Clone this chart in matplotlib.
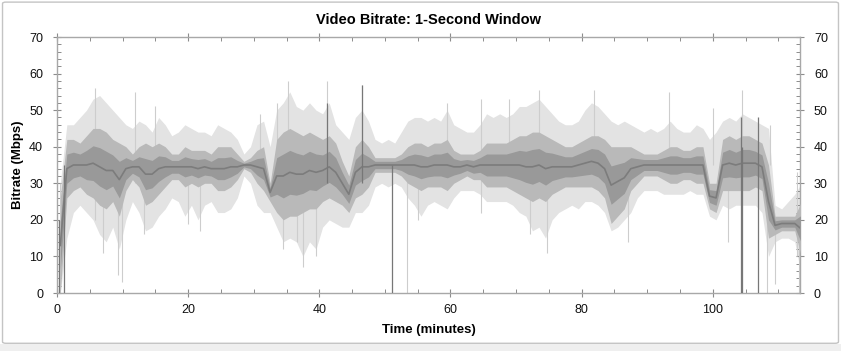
import matplotlib
matplotlib.use("Agg")
import matplotlib.pyplot as plt
from matplotlib.patches import FancyBboxPatch, Rectangle
from matplotlib.ticker import MultipleLocator
import numpy as np

plt.rcParams['font.family'] = ['Liberation Sans', 'DejaVu Sans']

# ---- data (per-minute envelopes, Mbps) ----
minutes = list(range(0, 114))
light_lo = [0, 15, 22, 24, 22, 20, 16, 14, 18, 12, 20, 25, 22, 17, 18, 21, 23, 26, 25, 21,
            24, 20, 24, 25, 22, 22, 23, 26, 32, 30, 24, 22, 22, 18, 14, 15, 14, 10, 14, 12,
            18, 20, 19, 18, 18, 22, 22, 24, 29, 30, 29, 30, 29, 26, 24, 21, 24, 25, 24, 23,
            26, 28, 28, 28, 27, 25, 25, 25, 25, 24, 22, 21, 17, 18, 15, 20, 22, 23, 24, 23,
            25, 25, 24, 22, 17, 18, 20, 22, 26, 28, 28, 28, 27, 27, 27, 27, 28, 27, 27, 21,
            20, 24, 23, 24, 24, 24, 24, 22, 10, 14, 15, 15, 14, 5]
light_hi = [30, 46, 46, 48, 50, 53, 54, 52, 50, 48, 46, 45, 47, 46, 44, 48, 46, 43, 44, 46,
            45, 44, 44, 43, 46, 45, 44, 42, 38, 40, 46, 47, 40, 50, 52, 55, 51, 50, 52, 50,
            49, 52, 46, 44, 42, 48, 50, 47, 42, 41, 42, 41, 44, 47, 48, 48, 47, 48, 47, 50,
            46, 45, 44, 44, 46, 49, 48, 49, 48, 49, 51, 51, 52, 53, 51, 49, 47, 46, 46, 47,
            50, 52, 51, 49, 47, 46, 47, 46, 45, 44, 45, 44, 45, 47, 45, 44, 44, 46, 45, 42,
            44, 47, 48, 47, 49, 48, 47, 46, 45, 24, 23, 25, 27, 30]
dark_lo = [0, 26, 28, 29, 27, 26, 24, 23, 25, 21, 28, 31, 29, 24, 25, 27, 29, 31, 31, 29,
           30, 29, 30, 30, 28, 28, 29, 31, 34, 33, 30, 28, 25, 22, 20, 21, 21, 22, 23, 23,
           25, 26, 25, 24, 22, 26, 27, 29, 33, 33, 33, 33, 32, 30, 29, 28, 29, 29, 29, 28,
           30, 31, 32, 31, 31, 29, 29, 29, 29, 28, 27, 26, 25, 26, 25, 27, 28, 29, 29, 29,
           29, 29, 28, 26, 19, 21, 23, 28, 30, 32, 32, 32, 31, 30, 30, 31, 31, 30, 30, 23,
           22, 28, 28, 28, 28, 28, 29, 28, 15, 16, 17, 17, 17, 10]
dark_hi = [26, 42, 42, 41, 43, 45, 45, 44, 42, 41, 40, 38, 40, 41, 40, 41, 40, 38, 38, 40,
           39, 39, 39, 38, 40, 40, 40, 38, 36, 37, 39, 40, 30, 42, 44, 45, 44, 43, 44, 43,
           42, 43, 41, 36, 32, 40, 42, 40, 37, 37, 37, 37, 38, 40, 41, 41, 40, 41, 41, 42,
           39, 38, 38, 38, 39, 41, 41, 41, 41, 42, 43, 43, 44, 44, 43, 42, 41, 40, 40, 41,
           42, 43, 43, 42, 40, 40, 40, 40, 39, 38, 38, 38, 39, 40, 40, 39, 39, 40, 40, 30,
           30, 42, 43, 42, 43, 43, 42, 41, 35, 21, 21, 21, 21, 25]

# isolated spikes: time (min), bottom, top (Mbps)
light_spike_t = [0.5, 5.8, 7.0, 9.3, 9.9, 11.9, 13.2, 15.0, 19.9, 21.8, 31.0, 33.6, 34.5,
                 35.3, 36.6, 37.5, 39.5, 41.1, 46.5, 53.4, 55.0, 59.5, 64.6, 69.0, 72.2,
                 73.5, 74.7, 81.9, 87.1, 93.4, 100.0, 102.3, 104.4, 108.2, 108.7, 109.5,
                 112.9, 113.2]
light_spike_lo = [0, 20, 11, 5, 3, 30, 16, 30, 19, 17, 35, 30, 12, 35, 14, 7, 10, 35, 35,
                  0, 20, 35, 22, 34, 16, 35, 11, 35, 14, 35, 35, 14, 35, 0, 35, 2.5, 10, 0]
light_spike_hi = [30, 56, 35, 36, 33, 55, 35, 51, 35, 35, 49, 52, 30, 58, 30, 30, 30, 58,
                  57, 35, 35, 52, 53, 53, 35, 55.5, 30, 55.5, 30, 55, 50.6, 30, 55.5, 35,
                  46, 18, 33, 15]
dark_spike_t = [0.3, 1.0, 41.1, 46.5, 51.1, 104.3, 104.5, 106.9]
dark_spike_lo = [0, 0, 30, 30, 0, 0, 0, 0]
dark_spike_hi = [20, 35, 52, 57, 35, 48, 40, 48]

# ---- figure ----
fig = plt.figure(figsize=(8.41, 3.51), dpi=100)
fig.patch.set_facecolor('#efefef')

bg = fig.add_axes([0, 0, 1, 1], zorder=-10)
bg.set_xlim(0, 1)
bg.set_ylim(0, 1)
bg.axis('off')
bg.add_patch(Rectangle((0, 0.02), 1, 0.98, facecolor='white', edgecolor='none'))
bg.add_patch(FancyBboxPatch((0.003, 0.022), 0.994, 0.972,
                            boxstyle='round,pad=0,rounding_size=0.004',
                            facecolor='white', edgecolor='#c4c4c4', linewidth=1.0))

ax = fig.add_axes([57 / 841, (351 - 293) / 351, (800 - 57) / 841, (293 - 37) / 351], zorder=1)
ax.set_facecolor('white')

m = np.array(minutes, dtype=float) + 0.5
llo, lhi = np.array(light_lo, float), np.array(light_hi, float)
dlo, dhi = np.array(dark_lo, float), np.array(dark_hi, float)
core = (dlo + dhi) / 2.0
half = (dhi - dlo) / 4.0

ax.fill_between(m, llo, lhi, color='#e3e3e3', linewidth=0, zorder=1)
ax.vlines(light_spike_t, light_spike_lo, light_spike_hi, color='#cdcdcd', linewidth=0.8, zorder=2)
ax.fill_between(m, dlo, dhi, color='#b9b9b9', linewidth=0, zorder=3)
ax.fill_between(m, core - half, core + half, color='#999999', linewidth=0, zorder=4)
ax.plot(m, core, color='#7c7c7c', linewidth=1.2, zorder=5)
ax.vlines(dark_spike_t, dark_spike_lo, dark_spike_hi, color='#777777', linewidth=0.9, zorder=6)

ax.set_xlim(0, 113.3)
ax.set_ylim(0, 70)

for s in ax.spines.values():
    s.set_color('#a8a8a8')
    s.set_linewidth(1.0)

ax.xaxis.set_major_locator(MultipleLocator(20))
ax.xaxis.set_minor_locator(MultipleLocator(5))
ax.yaxis.set_major_locator(MultipleLocator(10))
ax.yaxis.set_minor_locator(MultipleLocator(2))

ax.tick_params(axis='both', which='major', direction='inout', length=6, width=0.8,
               color='#8c8c8c', labelsize=9, labelcolor='#111111')
ax.tick_params(axis='both', which='minor', direction='in', length=3, width=0.7, color='#8c8c8c')
ax.tick_params(axis='y', which='both', left=True, right=True, labelleft=True, labelright=True, pad=7)
ax.tick_params(axis='x', which='both', bottom=True, top=True, labeltop=False, pad=5)

ax.set_title('Video Bitrate: 1-Second Window', fontsize=10.5, fontweight='bold', pad=9)
ax.set_xlabel('Time (minutes)', fontsize=9.5, fontweight='bold', labelpad=6)
ax.set_ylabel('Bitrate (Mbps)', fontsize=9.5, fontweight='bold', labelpad=4)

fig.savefig('out.png', dpi=100)
